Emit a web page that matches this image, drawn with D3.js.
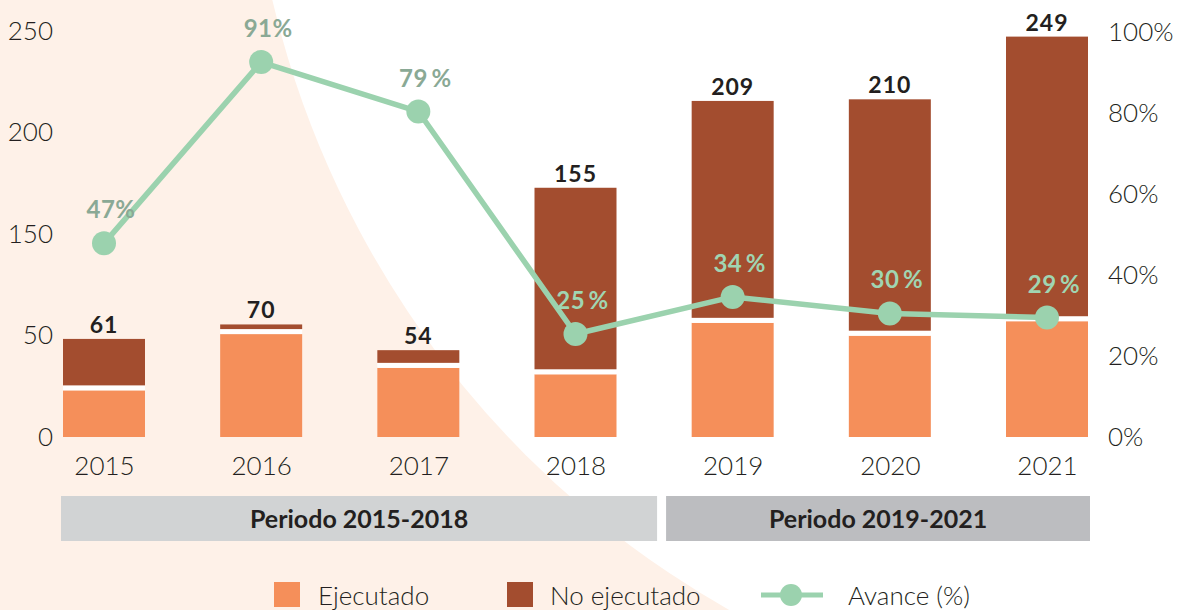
<!DOCTYPE html>
<html>
<head>
<meta charset="utf-8">
<script src="https://cdn.jsdelivr.net/npm/d3@7"></script>
<style>
  html, body { margin: 0; padding: 0; background: #fff; }
  svg { display: block; }
  text { font-family: Lato, "Open Sans", sans-serif; }
</style>
</head>
<body>
<svg id="chart" width="1180" height="610"></svg>
<script>
// ---- data ----
const years = ["2015", "2016", "2017", "2018", "2019", "2020", "2021"];
const totals = [61, 70, 54, 155, 209, 210, 249];
const ejecutado = [29, 64, 43, 39, 71, 63, 72];
const noEjecutado = [32, 6, 11, 116, 138, 147, 177];
const avance = [47, 91, 79, 25, 34, 30, 29];
const avanceLabels = ["47%", "91%", "79\u2009%", "25\u2009%", "34\u2009%", "30\u2009%", "29\u2009%"];
const leftTickLabels = ["0", "50", "150", "200", "250"];
const rightTickValues = [0, 20, 40, 60, 80, 100];
const periodLabels = ["Periodo 2015-2018", "Periodo 2019-2021"];
const periodStart = ["2015", "2019"];
const periodEnd = ["2018", "2021"];
const legendLabels = ["Ejecutado", "No ejecutado", "Avance (%)"];

// ---- styles ----
const C = {
  peach: "#fef1e8",
  orange: "#f58f5a",
  brown: "#a34d2f",
  green: "#9bd2ae",
  greenMuted: "#8aa995",
  greenLight: "#a0d5b2",
  text: "#231f20",
  period1: "#d1d3d4",
  period2: "#bcbdc0"
};

const svg = d3.select("#chart");

// background: peach with a large white circle (upper right)
svg.append("rect").attr("width", 1180).attr("height", 610).attr("fill", C.peach);
svg.append("circle").attr("cx", 1199).attr("cy", -218).attr("r", 952).attr("fill", "#fff");

const table = years.map((y, i) => ({ year: y, ej: ejecutado[i], no: noEjecutado[i] }));
const stack = d3.stack().keys(["ej", "no"])(table);

const x = d3.scalePoint().domain(years).range([104, 1047]);
const bw = 82;
const y = d3.scaleLinear().domain([0, 250]).range([437, 35]);
const yPctAxis = d3.scaleLinear().domain([0, 100]).range([437, 32]);
const yPctLine = d3.scaleLinear().domain([0, 100]).range([437, 25]);
const gap = 5;

// bars
const gBars = svg.append("g");
gBars.selectAll("rect.ej").data(stack[0]).join("rect")
  .attr("class", "ej")
  .attr("x", d => x(d.data.year) - bw / 2)
  .attr("width", bw)
  .attr("y", d => y(d[1]))
  .attr("height", d => y(d[0]) - y(d[1]))
  .attr("fill", C.orange);
gBars.selectAll("rect.gap").data(stack[0]).join("rect")
  .attr("class", "gap")
  .attr("x", d => x(d.data.year) - bw / 2)
  .attr("width", bw)
  .attr("y", d => y(d[1]) - gap)
  .attr("height", gap)
  .attr("fill", "#fff");
gBars.selectAll("rect.no").data(stack[1]).join("rect")
  .attr("class", "no")
  .attr("x", d => x(d.data.year) - bw / 2)
  .attr("width", bw)
  .attr("y", d => y(d[1]))
  .attr("height", d => Math.max(0, y(d[0]) - gap - y(d[1])))
  .attr("fill", C.brown);

// total labels
svg.append("g").selectAll("text").data(years).join("text")
  .attr("x", d => x(d))
  .attr("y", (d, i) => y(totals[i]) - 6)
  .attr("text-anchor", "middle")
  .attr("font-size", 23)
  .attr("font-weight", 700)
  .attr("letter-spacing", 1)
  .attr("fill", C.text)
  .text((d, i) => totals[i]);

// line
const line = d3.line().x((d, i) => x(years[i])).y(d => yPctLine(d));
svg.append("path").datum(avance)
  .attr("d", line)
  .attr("fill", "none")
  .attr("stroke", C.green)
  .attr("stroke-width", 5.5)
  .attr("stroke-linejoin", "round");
svg.append("g").selectAll("circle").data(avance).join("circle")
  .attr("cx", (d, i) => x(years[i]))
  .attr("cy", d => yPctLine(d))
  .attr("r", 12)
  .attr("fill", C.green);
svg.append("g").selectAll("text").data(avance).join("text")
  .attr("x", (d, i) => x(years[i]) + 7)
  .attr("y", d => yPctLine(d) - 25)
  .attr("text-anchor", "middle")
  .attr("font-size", 24)
  .attr("font-weight", 700)
  .attr("letter-spacing", 0.5)
  .attr("fill", (d, i) => (yPctLine(d) - 25 > y(totals[i]) ? C.greenLight : C.greenMuted))
  .text((d, i) => avanceLabels[i]);

// axes
const axisFont = g => g.selectAll("text")
  .attr("font-size", 26).attr("font-weight", 300).attr("fill", C.text)
  .style("font-family", "Lato, 'Open Sans', sans-serif");

const leftPos = d3.scalePoint().domain(leftTickLabels).range([437, 31]);
svg.append("g").attr("transform", "translate(53,0)")
  .call(d3.axisLeft(leftPos).tickSize(0).tickPadding(0))
  .call(g => g.select(".domain").remove())
  .call(axisFont);

svg.append("g").attr("transform", "translate(1108,0)")
  .call(d3.axisRight(yPctAxis).tickValues(rightTickValues).tickFormat(d => d + "%").tickSize(0).tickPadding(0))
  .call(g => g.select(".domain").remove())
  .call(axisFont);

svg.append("g").attr("transform", "translate(0,457)")
  .call(d3.axisBottom(x).tickSize(0).tickPadding(0))
  .call(g => g.select(".domain").remove())
  .call(axisFont);

// period bands
const pTop = 496, pH = 45;
const mid = (x("2018") + x("2019")) / 2 + 7.5;
const pBounds = [
  [x(periodStart[0]) - 43, mid - 4.5],
  [mid + 4.5, x(periodEnd[1]) + 43]
];
const gP = svg.append("g");
periodLabels.forEach((lab, i) => {
  gP.append("rect")
    .attr("x", pBounds[i][0]).attr("y", pTop)
    .attr("width", pBounds[i][1] - pBounds[i][0]).attr("height", pH)
    .attr("fill", i === 0 ? C.period1 : C.period2);
  gP.append("text")
    .attr("x", (pBounds[i][0] + pBounds[i][1]) / 2)
    .attr("y", pTop + pH / 2 + 9)
    .attr("text-anchor", "middle")
    .attr("font-size", 25).attr("font-weight", 700).attr("fill", C.text)
    .text(lab);
});

// legend
const gL = svg.append("g");
gL.append("rect").attr("x", 274).attr("y", 582).attr("width", 26).attr("height", 25).attr("fill", C.orange);
gL.append("text").attr("x", 318).attr("y", 605).attr("font-size", 26).attr("font-weight", 300).attr("fill", C.text).text(legendLabels[0]);
gL.append("rect").attr("x", 507).attr("y", 582).attr("width", 26).attr("height", 25).attr("fill", C.brown);
gL.append("text").attr("x", 550).attr("y", 605).attr("font-size", 26).attr("font-weight", 300).attr("fill", C.text).text(legendLabels[1]);
gL.append("line").attr("x1", 761).attr("x2", 823).attr("y1", 595).attr("y2", 595).attr("stroke", C.green).attr("stroke-width", 5);
gL.append("circle").attr("cx", 791).attr("cy", 595).attr("r", 11).attr("fill", C.green);
gL.append("text").attr("x", 848).attr("y", 605).attr("font-size", 26).attr("font-weight", 300).attr("fill", C.text).text(legendLabels[2]);
</script>
</body>
</html>
